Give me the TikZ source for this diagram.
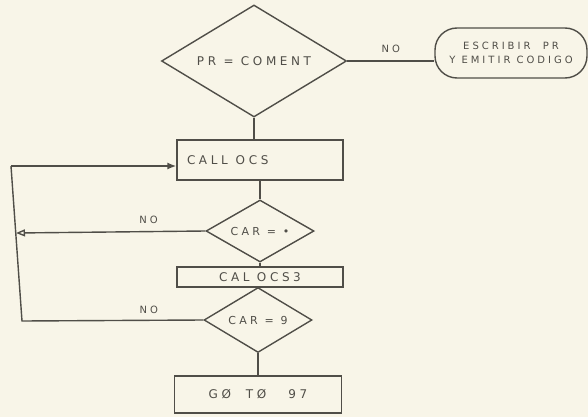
\documentclass[tikz,border=0pt]{standalone}
\usepackage{fontspec}
\newfontfamily\handfont[LetterSpace=30]{DejaVu Sans}
\usetikzlibrary{shapes.geometric,arrows.meta}
\definecolor{paper}{RGB}{248,245,232}
\definecolor{pencil}{RGB}{80,78,72}
\tikzset{
  flow/.style={draw=pencil, line width=1.4pt},
  box/.style={flow, rectangle, inner sep=0pt, text=pencil, font=\handfont\fontsize{12}{14}\selectfont},
  test/.style={box, diamond, aspect=2},
  label/.style={text=pencil, font=\handfont\fontsize{10}{12}\selectfont}
}
\begin{document}
\begin{tikzpicture}[x=1pt,y=-1pt]
  \fill[paper] (0,0) rectangle (588,417);
  \useasboundingbox (0,0) rectangle (588,417);

  % main chain
  \node[test, minimum width=185pt, minimum height=112pt] (coment) at (254,61) {PR = COMENT};
  \node[box, rounded corners=22pt, minimum width=152pt, minimum height=50pt, align=center,
        font=\handfont\fontsize{10}{14}\selectfont] (msg) at (511,53) {ESCRIBIR\ \ PR\\ Y EMITIR CODIGO};
  \node[box, minimum width=166pt, minimum height=40pt, text width=146pt, align=left] (call) at (260,160) {CALL\ \ OCS};
  \node[test, minimum width=108pt, minimum height=62pt, font=\handfont\fontsize{11}{13}\selectfont] (car1) at (260,231) {CAR = \textbullet};
  \node[box, minimum width=166pt, minimum height=20pt] (ocs) at (260,277) {CAL OCS3};
  \node[test, minimum width=108pt, minimum height=65pt, font=\handfont\fontsize{11}{13}\selectfont] (car2) at (258,320) {CAR = 9};
  \node[box, minimum width=167pt, minimum height=37pt] (goto) at (258,394.5) {G\O\ \ T\O\ \ \ 97};

  \draw[flow] (coment.east) -- node[label, above=4pt] {NO} (coment.east -| msg.west);
  \draw[flow] (coment.south) -- (coment.south |- call.north);
  \draw[flow] (call.south) -- (car1.north);
  \draw[flow] (car1.south) -- (ocs.north);
  \draw[flow] (ocs.south) -- (car2.north);
  \draw[flow] (car2.south) -- (goto.north);

  % loop back to CALL OCS
  \coordinate (looptop) at (11,166);
  \coordinate (loopmid) at (16,233);
  \coordinate (loopbot) at (22,321);
  \draw[flow] (car2.west) -- node[label, above=3pt, pos=0.3] {NO} (loopbot) -- (looptop);
  \draw[flow, -{Triangle[open, length=9pt, width=7pt]}] (car1.west) -- node[label, above=4pt, pos=0.3] {NO} (loopmid);
  \draw[flow, -{Latex[length=9pt, width=7pt]}] (looptop) -- (looptop -| call.west);
\end{tikzpicture}
\end{document}
